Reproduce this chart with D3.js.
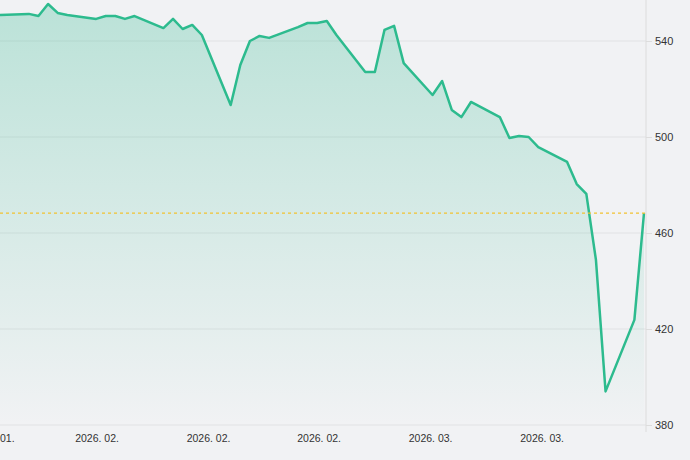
<!DOCTYPE html>
<html>
<head>
<meta charset="utf-8">
<script src="https://cdn.jsdelivr.net/npm/d3@7"></script>
<style>
  body { margin: 0; background: #f1f2f4; font-family: "Liberation Sans", Arial, sans-serif; }
</style>
</head>
<body>
<div id="chart"></div>
<script>
// === DATA ===
const days = [0, 3, 4, 5, 6, 7, 10, 11, 12, 13, 14, 17, 18, 19, 20, 21,
  24, 25, 26, 27, 28, 31, 32, 33, 34, 35, 38, 39, 40, 41, 42,
  45, 46, 47, 48, 49, 52, 53, 54, 55, 56, 59, 60, 61, 62, 63, 66, 67];
const prices = [550.8, 551.3, 550.4, 555.4, 551.7, 550.8, 549.2, 550.4, 550.4, 549.2, 550.4,
  545.4, 549.2, 545.0, 546.7, 542.5, 513.3, 530.0, 540.0, 542.1, 541.3,
  545.8, 547.5, 547.5, 548.3, 542.5, 527.1, 527.1, 544.6, 546.3, 530.8,
  517.5, 523.3, 511.3, 508.3, 514.6, 508.3, 499.6, 500.4, 500.0, 495.8,
  489.6, 480.4, 476.3, 448.8, 394.0, 423.8, 468.3];
const refLevel = 468.3;
const yTicks = [380, 420, 460, 500, 540];
const xTickDays = [10.1, 21.7, 33.2, 44.8, 56.4];
const xTickLabels = ["2026. 02.", "2026. 02.", "2026. 02.", "2026. 03.", "2026. 03."];
const firstLabel = "01.";

const data = days.map((d, i) => ({ day: d, price: prices[i] }));

// === SVG SETUP ===
const W = 690, H = 460;
const plotRight = 646, plotTop = 0, plotBottom = 432;

const svg = d3.select("#chart").append("svg")
  .attr("width", W).attr("height", H);

const x = d3.scaleLinear().domain([0, 67]).range([0, 644]);
const y = d3.scaleLinear().domain([380, 540]).range([425, 41]);

// gradient fill
const grad = svg.append("defs").append("linearGradient")
  .attr("id", "fillGrad").attr("x1", 0).attr("x2", 0).attr("y1", 0).attr("y2", 1);
grad.append("stop").attr("offset", "0%").attr("stop-color", "#2fb98f").attr("stop-opacity", 0.28);
grad.append("stop").attr("offset", "100%").attr("stop-color", "#2fb98f").attr("stop-opacity", 0.0);

// grid lines
svg.append("g").selectAll("line").data(yTicks).enter().append("line")
  .attr("x1", 0).attr("x2", plotRight)
  .attr("y1", d => y(d)).attr("y2", d => y(d))
  .attr("stroke", "#e1e2e4").attr("stroke-width", 1);

// area + line
svg.append("path").datum(data)
  .attr("fill", "url(#fillGrad)")
  .attr("d", d3.area().x(d => x(d.day)).y0(y(380)).y1(d => y(d.price)));

svg.append("path").datum(data)
  .attr("fill", "none")
  .attr("stroke", "#2dbb8e")
  .attr("stroke-width", 2.5)
  .attr("stroke-linejoin", "round")
  .attr("d", d3.line().x(d => x(d.day)).y(d => y(d.price)));

// reference dashed line
svg.append("line")
  .attr("x1", 0).attr("x2", plotRight)
  .attr("y1", y(refLevel)).attr("y2", y(refLevel))
  .attr("stroke", "#f2c230").attr("stroke-width", 1.2)
  .attr("stroke-dasharray", "3,3");

// right axis
const yAxis = d3.axisRight(y).tickValues(yTicks).tickSize(6).tickPadding(3);
const ya = svg.append("g").attr("transform", `translate(${plotRight},0)`).call(yAxis);
ya.select(".domain").remove();
ya.selectAll(".tick line").attr("stroke", "#ddd");
ya.selectAll("text").attr("font-size", 11).attr("fill", "#333")
  .attr("font-family", "Liberation Sans, Arial, sans-serif");
svg.append("line")
  .attr("x1", plotRight).attr("x2", plotRight).attr("y1", plotTop).attr("y2", plotBottom)
  .attr("stroke", "#dcdcdc");

// bottom axis labels
svg.append("g").selectAll("text").data(xTickDays).enter().append("text")
  .attr("x", d => x(d)).attr("y", 442)
  .attr("text-anchor", "middle")
  .attr("font-size", 10.5).attr("fill", "#333")
  .text((d, i) => xTickLabels[i]);
svg.append("text")
  .attr("x", 0).attr("y", 442)
  .attr("font-size", 10.5).attr("fill", "#333")
  .text(firstLabel);
</script>
</body>
</html>
